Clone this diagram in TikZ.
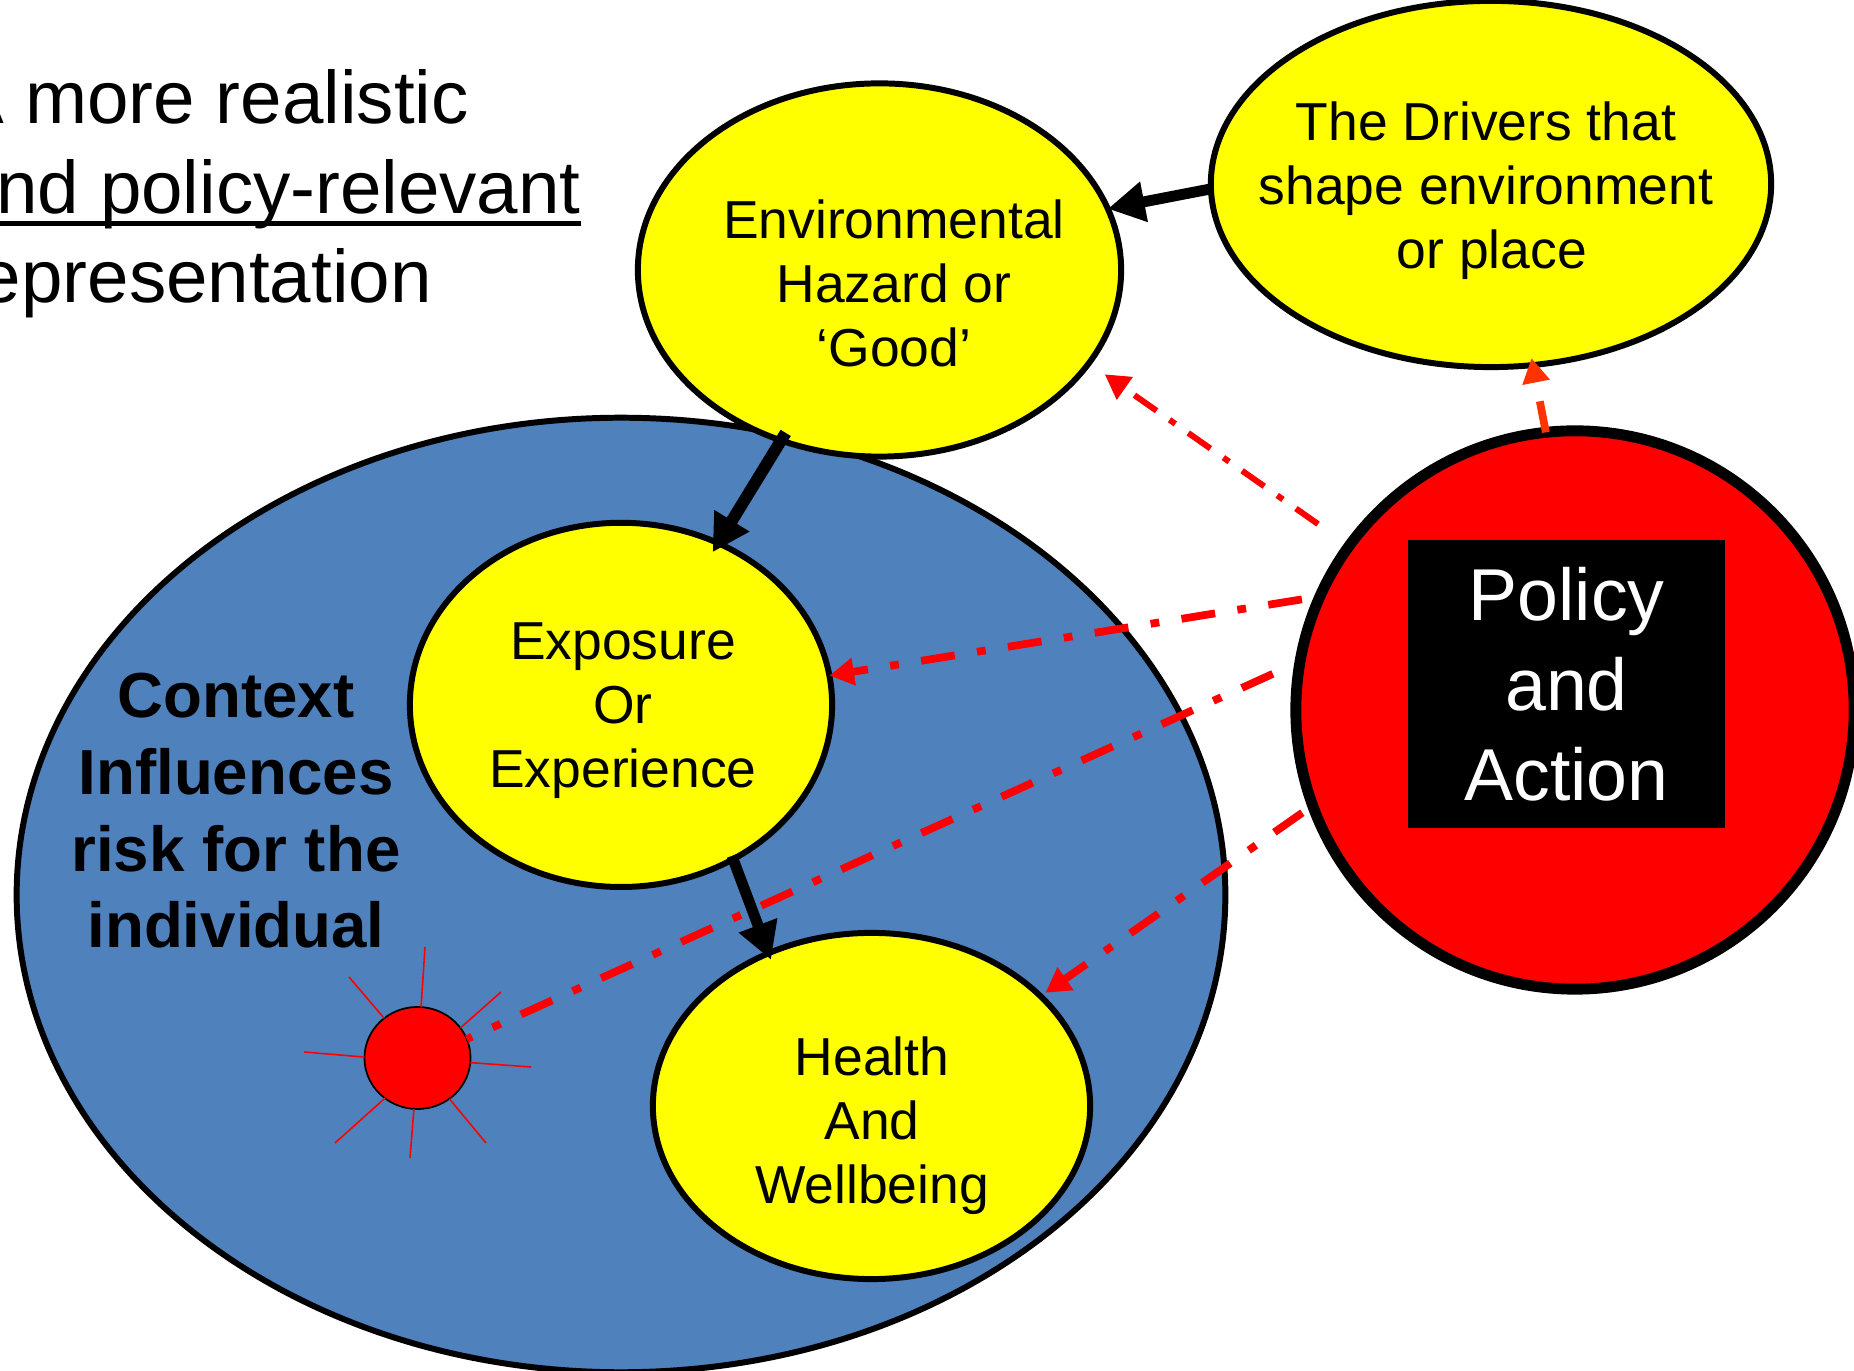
\documentclass[tikz,border=0pt]{standalone}
\usepackage{fontspec}
\setmainfont{Liberation Sans}
\usetikzlibrary{shapes.geometric,arrows.meta,positioning}
\definecolor{contextblue}{HTML}{4F81BD}
\definecolor{driverorange}{HTML}{FF3300}
\definecolor{blobyellow}{RGB}{255,255,0}
\definecolor{flowred}{RGB}{255,0,0}
\newcommand{\ruledline}[1]{\setbox0\hbox{#1}\rlap{\rule[-3.6pt]{\wd0}{1.5pt}}\box0}
\tikzstyle{every node}+=[inner sep=0mm,outer sep=0mm]
\tikzstyle{blob}=[ellipse,draw=black,fill=blobyellow,line width=1.7pt]
\tikzstyle{bodytext}=[align=center,font=\fontsize{15.2}{18.2}\selectfont]
\tikzstyle{thickflow}=[black,line width=3.1pt,-{Triangle[length=10.5pt,width=11pt]}]
\tikzstyle{redflow}=[flowred,line width=2.2pt,dash pattern=on 9.7pt off 6.4pt on 2.5pt off 6.4pt]
\tikzstyle{thinflow}=[flowred,line width=1.7pt,dash pattern=on 7.7pt off 4.5pt on 2pt off 4.5pt]
\tikzstyle{redtip}=[-{Triangle[length=7pt,width=7.5pt]}]
\tikzstyle{ray}=[flowred,line width=0.45pt]
\begin{document}
\begin{tikzpicture}[x=0.01cm,y=-0.01cm]
\useasboundingbox (0,0) rectangle (1854,1371);

\node[ellipse,draw=black,fill=contextblue,line width=1.7pt,minimum width=12.08cm,minimum height=9.54cm] (blue) at (621,895) {};
\node[blob,minimum width=4.83cm,minimum height=3.73cm] (env) at (879.5,270) {};
\node[blob,minimum width=5.6cm,minimum height=3.66cm] (drivers) at (1491,184) {};
\node[blob,above of=blue,node distance=1.9cm,minimum width=4.22cm,minimum height=3.64cm] (exposure) {};
\node[blob,minimum width=4.37cm,minimum height=3.46cm] (health) at (871.5,1106) {};
\node[circle,draw=black,fill=flowred,line width=3.1pt,minimum size=5.58cm] (policy) at (1575,710) {};
\node[fill=black,text=white,minimum width=3.17cm,minimum height=2.88cm,align=center,font=\fontsize{20.9}{25.6}\selectfont] (action) at (1566.5,684) {Policy\\and\\Action};
\node[ellipse,draw=black,fill=flowred,line width=0.5pt,minimum width=1.06cm,minimum height=1.02cm] (sun) at (417.5,1058) {};

\node[bodytext] (envtext) at (894,283) {Environmental\\Hazard or\\‘Good’};
\node[bodytext] (driverstext) at (1486,191) {The Drivers that\\shape environment\\\hspace*{3.4pt}or place};
\node[bodytext] (exposuretext) at (623,711) {Exposure\\Or\\Experience};
\node[bodytext] (healthtext) at (872,1126) {Health\\And\\Wellbeing};
\node[align=center,font=\fontsize{18.1}{21.8}\selectfont\bfseries] (context) at (236,811) {Context\\Influences\\risk for the\\individual};
\node[anchor=west,align=left,font=\fontsize{21.2}{25.5}\selectfont] (title) at (-45,194) {A more realistic\\\ruledline{and policy-relevant}\\representation};

\foreach \ang/\ex/\ey [count=\i] in {86/425/947,130/349/977,35/501/992,-5/531/1067,-52/486/1143,-94/410/1158,-129/335/1143,179/304/1052}{
  \coordinate (ray\i) at (\ex,\ey);
  \draw[ray] (sun.\ang) -- (ray\i);
}

\draw[thinflow,redtip,shorten <=10.8pt,shorten >=5.5pt] (policy.144) -- (env.-24.5);
\draw[redflow,redtip,shorten <=5.2pt] (policy.156) -- (exposure.8);
\draw[redflow,shorten <=8.5pt] (policy.170.7) -- (sun.21);
\draw[redflow,redtip,shorten <=3.6pt,shorten >=1.7pt] (policy.200) -- (health.33);
\draw[redflow,redtip,driverorange,dash pattern=on 9pt off 7pt,shorten >=-2pt] (policy.96.4) -- (drivers.-77);

\draw[thickflow] (drivers.181) -- (env.15.5);
\draw[thickflow,line width=3.4pt,shorten <=-2.5pt,shorten >=-3pt] (env.240.7) -- (exposure.59);
\draw[thickflow,shorten <=-1pt,shorten >=-2pt] (exposure.-54.6) -- (health.124.4);
\end{tikzpicture}
\end{document}
